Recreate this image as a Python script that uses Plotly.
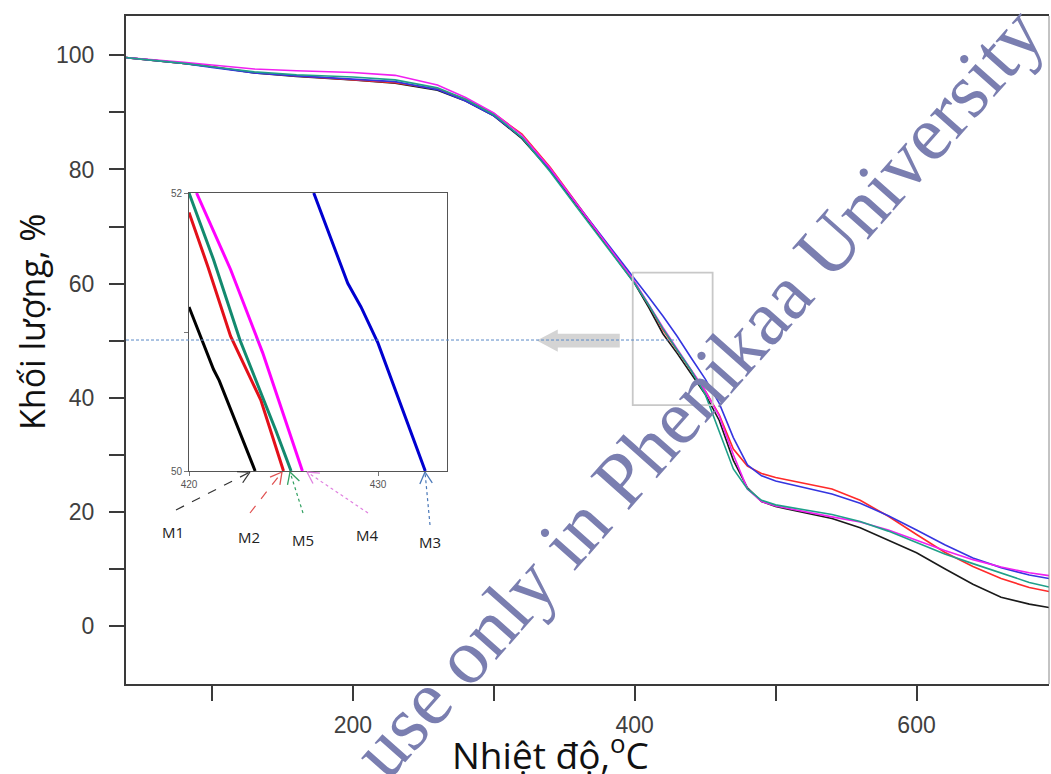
import math
import plotly.graph_objects as go

# ---------------- data ----------------
temperature = [39, 60, 80, 100, 130, 160, 200, 230, 260, 280, 300, 320, 340, 360, 380, 400,
               410, 420, 430, 440, 450, 460, 470, 480, 490, 500, 520, 540, 560, 580, 600,
               620, 640, 660, 680, 694]

m1_mass = [99.6, 99.1, 98.6, 98.0, 96.9, 96.3, 95.7, 95.1, 93.9, 92.0, 89.4, 85.4, 79.8, 73.4,
           66.8, 60.0, 55.8, 51.2, 47.8, 44.3, 40.6, 36.0, 29.0, 24.2, 21.8, 20.9, 19.8, 18.8,
           17.2, 15.0, 12.8, 10.0, 7.3, 5.0, 3.8, 3.2]
m2_mass = [99.6, 99.1, 98.6, 98.0, 97.0, 96.4, 95.7, 95.2, 94.1, 92.3, 89.8, 86.2, 80.4, 73.8,
           67.0, 60.2, 56.2, 51.9, 48.3, 44.8, 41.2, 37.0, 31.0, 28.0, 26.7, 26.0, 25.0, 24.0,
           22.0, 19.2, 16.0, 12.9, 10.4, 8.3, 6.7, 6.0]
m3_mass = [99.6, 99.1, 98.6, 97.9, 96.9, 96.4, 95.9, 95.4, 94.0, 92.0, 89.4, 85.6, 80.0, 73.6,
           67.2, 61.0, 57.6, 54.3, 50.8, 47.0, 43.3, 39.0, 33.0, 28.2, 26.3, 25.4, 24.3, 23.1,
           21.5, 19.3, 16.8, 14.2, 11.9, 10.2, 8.9, 8.3]
m4_mass = [99.6, 99.2, 98.8, 98.3, 97.6, 97.3, 97.0, 96.5, 94.8, 92.6, 89.9, 86.0, 80.2, 73.6,
           67.0, 60.3, 56.3, 52.3, 48.6, 45.0, 41.2, 36.8, 30.0, 24.0, 21.8, 21.0, 20.0, 19.1,
           18.2, 16.8, 15.0, 13.2, 11.6, 10.3, 9.3, 8.8]
m5_mass = [99.6, 99.1, 98.6, 98.0, 97.1, 96.6, 96.2, 95.7, 94.3, 92.3, 89.6, 85.6, 79.6, 73.0,
           66.6, 60.0, 56.2, 52.1, 48.4, 44.8, 40.6, 34.0, 27.5, 24.0, 22.0, 21.2, 20.3, 19.5,
           18.3, 16.6, 14.6, 12.6, 10.9, 9.2, 7.6, 6.8]

# zoomed inset (50-52 %)
inset_m1_t = [420.0, 421.3, 421.6, 423.5]
inset_m1_w = [51.18, 50.73, 50.65, 50.0]
inset_m2_t = [420.0, 421.0, 422.2, 423.8, 425.0]
inset_m2_w = [51.86, 51.47, 50.97, 50.51, 50.0]
inset_m5_t = [420.0, 421.3, 422.7, 424.6, 425.4]
inset_m5_w = [52.0, 51.52, 50.94, 50.29, 50.0]
inset_m4_t = [420.4, 422.2, 423.9, 426.0]
inset_m4_w = [52.0, 51.45, 50.85, 50.0]
inset_m3_t = [426.6, 428.4, 429.1, 430.0, 432.5]
inset_m3_w = [52.0, 51.35, 51.18, 50.92, 50.0]

x_tickvals = [100, 200, 300, 400, 500, 600]
x_ticktext = ["", "200", "", "400", "", "600"]
y_tickvals = [0, 10, 20, 30, 40, 50, 60, 70, 80, 90, 100]
y_ticktext = ["0", "", "20", "", "40", "", "60", "", "80", "", "100"]

sample_names = ["M1", "M2", "M3", "M4", "M5"]

# ---------------- geometry helpers (pixel -> paper) ----------------
W, H = 1051, 774
L, R, T, B = 126, 2, 16, 90
PW, PH = W - L - R, H - T - B


def px(x):
    return (x - L) / PW


def py(y):
    return (H - B - y) / PH


fig = go.Figure()

main_colors = ["#1a1a1a", "#ff2a2a", "#3535e0", "#f020f0", "#1fa08a"]
main_series = [m1_mass, m2_mass, m3_mass, m4_mass, m5_mass]
for name, col, ys in zip(sample_names, main_colors, main_series):
    fig.add_trace(go.Scatter(x=temperature, y=ys, mode="lines", name=name,
                             line=dict(color=col, width=1.6), xaxis="x", yaxis="y"))

inset_colors = {"M1": "#000000", "M2": "#e3101a", "M5": "#138a6e", "M4": "#ff00ff", "M3": "#0000d0"}
inset_data = [("M1", inset_m1_t, inset_m1_w), ("M2", inset_m2_t, inset_m2_w),
              ("M5", inset_m5_t, inset_m5_w), ("M4", inset_m4_t, inset_m4_w),
              ("M3", inset_m3_t, inset_m3_w)]
for name, xs, ys in inset_data:
    fig.add_trace(go.Scatter(x=xs, y=ys, mode="lines", name=name + " zoom",
                             line=dict(color=inset_colors[name], width=3),
                             xaxis="x2", yaxis="y2"))

tick_font = dict(family="Liberation Sans, Arial, sans-serif", size=23, color="#404040")

fig.update_layout(
    width=W, height=H,
    margin=dict(l=L, r=R, t=T, b=B),
    paper_bgcolor="white", plot_bgcolor="white",
    showlegend=False,
    xaxis=dict(domain=[0, 1], range=[39, 694], tickvals=x_tickvals, ticktext=x_ticktext,
               ticks="outside", ticklen=15, tickwidth=2, tickcolor="#3a3a3a",
               showline=True, linecolor="#3a3a3a", linewidth=2, mirror=True,
               showgrid=False, zeroline=False, tickfont=tick_font, ticklabelstandoff=4),
    yaxis=dict(domain=[0, 1], range=[-10.2, 106.9], tickvals=y_tickvals, ticktext=y_ticktext,
               ticks="outside", ticklen=15, tickwidth=2, tickcolor="#3a3a3a",
               showline=True, linecolor="#3a3a3a", linewidth=2,
               showgrid=False, zeroline=False, tickfont=tick_font, ticklabelstandoff=10),
    xaxis2=dict(domain=[px(189), px(447)], range=[420, 433.65], anchor="y2",
                tickvals=[420, 430], ticks="outside", ticklen=4, tickcolor="#777",
                showline=True, linecolor="#555", linewidth=1, mirror=True,
                showgrid=False, zeroline=False,
                tickfont=dict(family="Liberation Sans, Arial", size=10, color="#555")),
    yaxis2=dict(domain=[py(471), py(193)], range=[50, 52], anchor="x2",
                tickvals=[50, 51, 52], ticktext=["50", "", "52"], ticks="outside", ticklen=4,
                tickcolor="#777", showline=True, linecolor="#555", linewidth=1, mirror=True,
                showgrid=False, zeroline=False,
                tickfont=dict(family="Liberation Sans, Arial", size=10, color="#555")),
)

shapes = []
# right frame edge
shapes.append(dict(type="line", xref="paper", yref="paper", x0=1, x1=1, y0=0, y1=1,
                   line=dict(color="#888", width=1)))
# zoom box
shapes.append(dict(type="rect", xref="x", yref="y", x0=398.6, x1=455.3, y0=38.7, y1=61.9,
                   line=dict(color="#c8c8c8", width=1.8)))
# big grey arrow
shapes.append(dict(type="path", xref="x", yref="y",
                   path="M 389.4,51.2 L 345.4,51.2 L 345.4,51.95 L 330.5,50.0 "
                        "L 345.4,48.05 L 345.4,48.8 L 389.4,48.8 Z",
                   fillcolor="#d4d4d4", line=dict(width=0)))
# 50 % dashed line
shapes.append(dict(type="line", xref="x", yref="y", x0=39, x1=429.8, y0=50.1, y1=50.1,
                   line=dict(color="#5a8ac8", width=1, dash="3px,2px")))


def pointer(x0, y0, x1, y1, color, dash):
    out = [dict(type="line", xref="paper", yref="paper", x0=px(x0), y0=py(y0),
                x1=px(x1), y1=py(y1), line=dict(color=color, width=1.2, dash=dash))]
    dx, dy = x0 - x1, y0 - y1
    n = math.hypot(dx, dy)
    ux, uy = dx / n, dy / n
    hl = 13
    for a in (0.5, -0.5):
        rx = ux * math.cos(a) - uy * math.sin(a)
        ry = ux * math.sin(a) + uy * math.cos(a)
        out.append(dict(type="line", xref="paper", yref="paper", x0=px(x1), y0=py(y1),
                        x1=px(x1 + rx * hl), y1=py(y1 + ry * hl),
                        line=dict(color=color, width=1.3)))
    return out


shapes += pointer(176, 510, 250, 472, "#333333", "dash")
shapes += pointer(250, 513, 282, 472, "#e05050", "dash")
shapes += pointer(303, 513, 290, 472, "#30a060", "dot")
shapes += pointer(368, 513, 307, 472, "#e080e0", "dot")
shapes += pointer(430, 525, 425, 472, "#4a78b8", "dot")
fig.update_layout(shapes=shapes)

ann = []
label_pos = {"M1": (173, 532), "M2": (249, 537), "M5": (303, 540), "M4": (367, 535), "M3": (430, 542)}
for name in sample_names:
    lx, ly = label_pos[name]
    ann.append(dict(text=name, xref="paper", yref="paper", x=px(lx), y=py(ly),
                    xanchor="center", yanchor="middle", showarrow=False,
                    font=dict(family="Open Sans, sans-serif", size=15, color="#222")))
ann.append(dict(text="Nhiệt độ,<sup>o</sup>C", xref="paper", yref="paper", x=px(550), y=py(752),
                xanchor="center", yanchor="middle", showarrow=False,
                font=dict(family="Open Sans, sans-serif", size=37, color="#111")))
ann.append(dict(text="Khối lượng, %", xref="paper", yref="paper", x=px(32), y=py(322),
                xanchor="center", yanchor="middle", showarrow=False, textangle=-90,
                font=dict(family="Open Sans, sans-serif", size=34, color="#111")))
ann.append(dict(text="use only in Phenikaa University", xref="paper", yref="paper",
                x=px(697), y=py(392), xanchor="center", yanchor="middle", showarrow=False,
                textangle=-48.5,
                font=dict(family="Liberation Serif, Times New Roman, serif", size=78,
                          color="#7a7eb0")))
fig.update_layout(annotations=ann)

fig.write_html("out.html", config={"displayModeBar": False},
               post_script="document.body.style.margin='0px';")
